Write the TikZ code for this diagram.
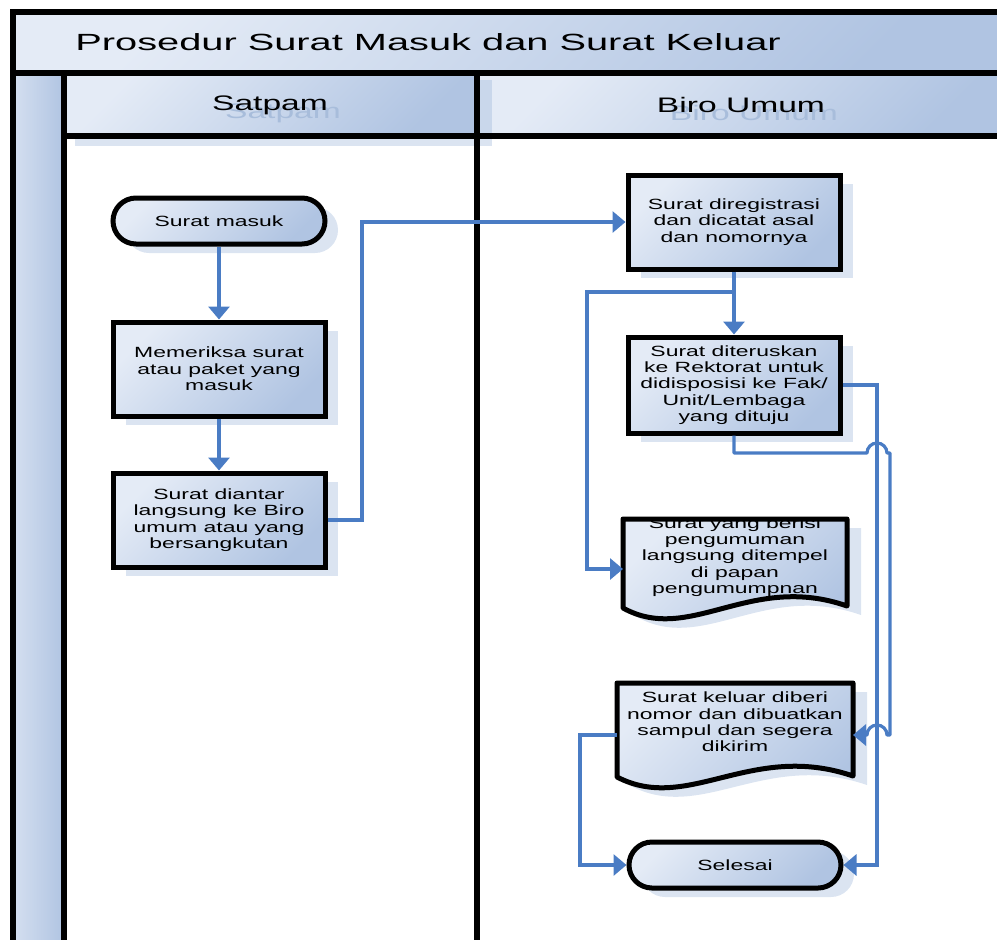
\documentclass[tikz,border=0pt]{standalone}
\usepackage{fontspec}
\setmainfont{Liberation Sans}[FakeStretch=1.55]
\newfontfamily\hdrfont{Liberation Sans}[FakeStretch=1.6]
\newfontfamily\ttlfont{Liberation Sans}[FakeStretch=1.7]
\usetikzlibrary{arrows.meta,shadows}
\definecolor{gA}{HTML}{E4EBF6}
\definecolor{gB}{HTML}{B0C4E2}
\definecolor{shc}{HTML}{DBE4F1}
\definecolor{connblue}{HTML}{4A7CC4}
\definecolor{ghostc}{HTML}{A8BDDB}
\begin{document}
\begin{tikzpicture}[x=0.5pt,y=-0.5pt,
  gfill/.style={top color=gA, bottom color=gB, shading angle=45},
  boxtext/.style={font=\fontsize{7.4}{8.2}\selectfont, align=center},
  procbox/.style={gfill, draw=black, line width=2.5pt, boxtext, inner sep=1pt,
    minimum width=106pt, minimum height=47pt,
    drop shadow={shadow xshift=6.5pt, shadow yshift=-4.5pt, fill=shc, opacity=1}},
  termbox/.style={procbox, minimum height=23pt, rounded corners=11.5pt},
  docshape/.style={gfill, draw=black, line width=2.5pt, line join=round,
    drop shadow={shadow xshift=7pt, shadow yshift=-4.5pt, fill=shc, opacity=1}},
  laneline/.style={draw=black, line width=2.6pt},
  link/.style={draw=connblue, line width=1.6pt},
  arrowlink/.style={link, -{Triangle[width=10.5pt,length=6.5pt]}},
  hdr/.style={font=\hdrfont\fontsize{10.5}{12}\selectfont},
  ghost/.style={hdr, text=ghostc}
]
\useasboundingbox (0,0) rectangle (997,939);
\clip (0,0) rectangle (997,939);

% ---- pool and lanes ----
\fill[gfill] (13,12) rectangle (1010,73);
\fill[gfill] (64,73) rectangle (477,136);
\fill[gfill] (477,73) rectangle (1010,136);
\fill[left color=gA!70!gB, right color=gB] (13,73) rectangle (64,945);
\fill[shc] (75,136) rectangle (492,146);
\fill[gB, opacity=0.5] (480,80) rectangle (492,136);

\node[ghost] (hsg) at (283,113) {Satpam};
\node[ghost] (hbg) at (754,113) {Biro Umum};
\node[hdr] (hs) at (270,105) {Satpam};
\node[hdr] (hb) at (741,105) {Biro Umum};
\node[font=\ttlfont\fontsize{11.7}{14}\selectfont, anchor=west, inner sep=0pt] (ttl) at (75,42) {Prosedur Surat Masuk dan Surat Keluar};

\draw[laneline] (1010,12) -- (13,12) -- (13,945);
\draw[laneline] (13,73) -- (1010,73);
\draw[laneline] (64,73) -- (64,945);
\draw[laneline] (64,136) -- (1010,136);
\draw[laneline] (477,73) -- (477,945);

% ---- Satpam lane ----
\node[termbox] (n1) at (219,221) {Surat masuk};
\node[procbox] (n2) at (219,369) {Memeriksa surat\\atau paket yang\\masuk};
\node[procbox] (n3) at (219,520) {Surat diantar\\langsung ke Biro\\umum atau yang\\bersangkutan};

% ---- Biro Umum lane ----
\node[procbox] (n4) at (734,222) {Surat diregistrasi\\dan dicatat asal\\dan nomornya};
\node[procbox, minimum height=48pt] (n5) at (734,385) {Surat diteruskan\\ke Rektorat untuk\\didisposisi ke Fak/\\Unit/Lembaga\\yang dituju};

\coordinate (d1tl) at (623,519);
\coordinate (d1tr) at (847,519);
\coordinate (d1br) at (847,606);
\coordinate (d1bl) at (623,608);
\path[docshape] (d1tl) -- (d1tr) -- (d1br) .. controls (750,572) and (690,645) .. (d1bl) -- cycle;
\node[boxtext, inner sep=0pt] (n6) at (735,557) {Surat yang berisi\\pengumuman\\langsung ditempel\\di papan\\pengumumpnan};

\coordinate (d2tl) at (617,683);
\coordinate (d2tr) at (853,683);
\coordinate (d2br) at (853,776);
\coordinate (d2bl) at (617,777);
\path[docshape] (d2tl) -- (d2tr) -- (d2br) .. controls (751,741) and (688,814) .. (d2bl) -- cycle;
\node[boxtext, inner sep=0pt] (n7) at (735,722) {Surat keluar diberi\\nomor dan dibuatkan\\sampul dan segera\\dikirim};

\node[termbox] (n8) at (735,865) {Selesai};

% ---- connectors ----
\coordinate (c1) at (362,0);
\coordinate (c2) at (587,292);
\coordinate (c3) at (877,0);
\coordinate (c4) at (890,453);
\coordinate (c5) at (580,0);
\coordinate (d1in) at (623,569);
\coordinate (d2in) at (853,735);
\coordinate (d2out) at (617,735);

\draw[arrowlink] (n1.south) -- (n2.north);
\draw[arrowlink] (n2.south) -- (n3.north);
\draw[arrowlink] (n3.east) -- (n3.east -| c1) |- (n4.west);
\draw[arrowlink] (n4.south) -- (n5.north);
\draw[arrowlink] (n4.south |- c2) -- (c2) |- (d1in);
\draw[arrowlink] (n5.east) -| (c3 |- n8.east) -- (n8.east);
\draw[arrowlink, line join=round] (n5.south) -- (n5.south |- c4) -- (867,453)
   arc[start angle=180, end angle=0, radius=5pt] -- (c4) -- (890,735) -- (887,735)
   arc[start angle=0, end angle=180, radius=5pt] -- (d2in);
\draw[arrowlink] (d2out) -- (d2out -| c5) |- (n8.west);
\end{tikzpicture}
\end{document}
